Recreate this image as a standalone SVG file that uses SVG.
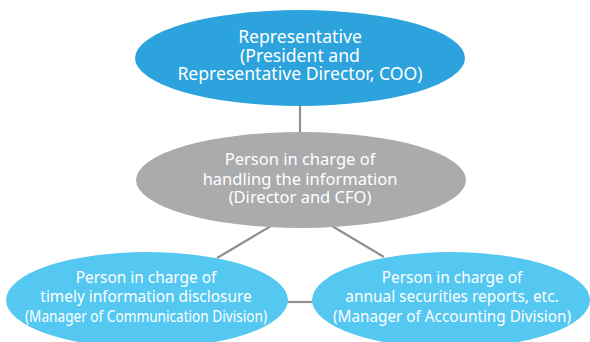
<svg xmlns="http://www.w3.org/2000/svg" width="590" height="342" viewBox="0 0 590 342">
<style>
.t{font-family:"Noto Sans","Open Sans","Liberation Sans",sans-serif;fill:#ffffff;text-anchor:middle}
.top{font-size:17.6px}
.mid{font-size:16.5px}
.bot{font-size:15.4px}
.c{stroke:#8f8f8f;stroke-width:2.2;fill:none}
</style>
<rect width="590" height="342" fill="#ffffff"/>
<g id="connectors">
<line class="c" x1="300" y1="105" x2="300" y2="134"/>
<line class="c" x1="271" y1="226" x2="217" y2="258"/>
<line class="c" x1="332" y1="226" x2="384" y2="257"/>
<line class="c" x1="286" y1="302" x2="314" y2="302"/>
</g>
<g id="representative">
<ellipse cx="300" cy="58" rx="165" ry="48" fill="#2ca3dc"/>
<text class="t top" x="300" y="43">Representative</text>
<text class="t top" x="300" y="62">(President and</text>
<text class="t top" x="300" y="80">Representative Director, COO)</text>
</g>
<g id="handling">
<ellipse cx="301" cy="180" rx="165" ry="48" fill="#aaabad"/>
<text class="t mid" x="300" y="165">Person in charge of</text>
<text class="t mid" x="300" y="185">handling the information</text>
<text class="t mid" x="300" y="203">(Director and CFO)</text>
</g>
<g id="disclosure">
<ellipse cx="147" cy="300" rx="141" ry="48" fill="#55c8f2"/>
<text class="t bot" x="146" y="283">Person in charge of</text>
<text class="t bot" x="146" y="302">timely information disclosure</text>
<text class="t bot" x="146" y="322" textLength="242" lengthAdjust="spacingAndGlyphs">(Manager of Communication Division)</text>
</g>
<g id="securities">
<ellipse cx="451" cy="300" rx="139" ry="48" fill="#55c8f2"/>
<text class="t bot" x="452" y="283">Person in charge of</text>
<text class="t bot" x="452" y="302">annual securities reports, etc.</text>
<text class="t bot" x="452" y="322" textLength="238" lengthAdjust="spacingAndGlyphs">(Manager of Accounting Division)</text>
</g>
</svg>
